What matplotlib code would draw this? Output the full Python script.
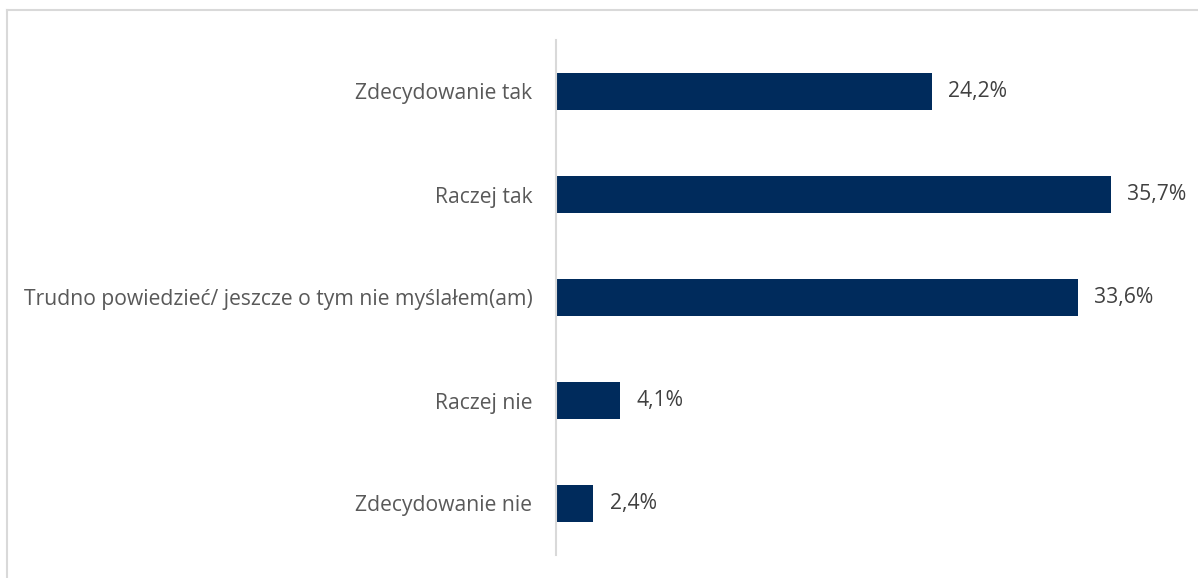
import matplotlib
matplotlib.use("Agg")
import matplotlib.pyplot as plt
from matplotlib.lines import Line2D

categories = ["Zdecydowanie tak", "Raczej tak",
              "Trudno powiedzieć/ jeszcze o tym nie myślałem(am)",
              "Raczej nie", "Zdecydowanie nie"]
values = [24.2, 35.7, 33.6, 4.1, 2.4]
value_labels = ["24,2%", "35,7%", "33,6%", "4,1%", "2,4%"]

plt.rcParams['font.family'] = ['Open Sans', 'DejaVu Sans']

fig = plt.figure(figsize=(11.98, 5.78), dpi=100)
ax = fig.add_axes([556/1198, 1-555/578, (40*15.54)/1198, 515/578])

ypos = list(range(len(categories)))[::-1]
ax.barh(ypos, values, height=0.36, color="#002B5C")
ax.set_xlim(0, 40)
ax.set_ylim(-0.5, len(categories) - 0.5)
ax.set_yticks(ypos)
ax.set_yticklabels(categories, fontsize=15.2, color="#595959")
ax.tick_params(axis='y', length=0, pad=17)
ax.set_xticks([])
for s in ["top", "right", "bottom"]:
    ax.spines[s].set_visible(False)
ax.spines["left"].set_color("#D9D9D9")
ax.spines["left"].set_linewidth(1.5)

for y, v, lab in zip(ypos, values, value_labels):
    ax.text(v + 1.05, y, lab, va="center", ha="left", fontsize=15.2, color="#404040")

# outer frame lines (top and left)
fig.add_artist(Line2D([6.5/1198, 1], [1-9.5/578, 1-9.5/578], transform=fig.transFigure, color="#D9D9D9", lw=1.5))
fig.add_artist(Line2D([6.5/1198, 6.5/1198], [0, 1-9.5/578], transform=fig.transFigure, color="#D9D9D9", lw=1.5))

fig.savefig("out.png", dpi=100, facecolor="white")
